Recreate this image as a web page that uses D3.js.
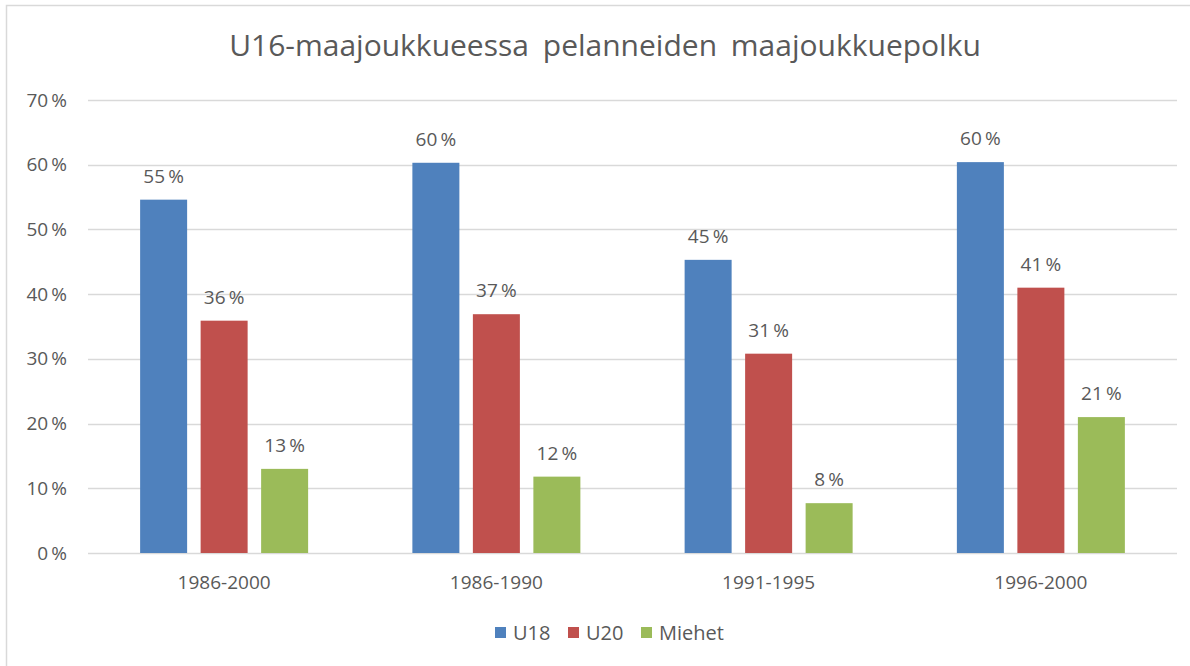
<!doctype html>
<html>
<head>
  <meta charset="utf-8">
  <title>U16-maajoukkueessa pelanneiden maajoukkuepolku</title>
  <script src="https://d3js.org/d3.v7.min.js"></script>
  <style>
    body { margin: 0; background: #fff; }
    svg text { font-family: "Open Sans", sans-serif; fill: #595959; }
  </style>
</head>
<body>
  <div id="chart"></div>
  <script>
    // data
    var categories = ["1986-2000", "1986-1990", "1991-1995", "1996-2000"];
    var seriesNames = ["U18", "U20", "Miehet"];
    var u18 = [54.6, 60.3, 45.3, 60.4];
    var u20 = [35.9, 36.9, 30.8, 41.0];
    var miehet = [13.0, 11.8, 7.7, 21.0];
    var yTicks = [0, 10, 20, 30, 40, 50, 60, 70];
    var colors = ["#4f81bd", "#c0504d", "#9bbb59"];

    var width = 1190, height = 666;
    var margin = { top: 100, right: 13, bottom: 113, left: 88 };

    var svg = d3.select("#chart").append("svg")
      .attr("width", width)
      .attr("height", height);

    // chart frame
    svg.append("rect")
      .attr("x", 6.5).attr("y", 5.5)
      .attr("width", width + 10).attr("height", height + 10)
      .attr("fill", "none")
      .attr("stroke", "#d9d9d9")
      .attr("stroke-width", 1.5);

    var x = d3.scaleBand()
      .domain(categories)
      .range([margin.left, width - margin.right]);

    var y = d3.scaleLinear()
      .domain([0, 70])
      .range([height - margin.bottom, margin.top]);

    var barW = 47, gap = 13.5;
    var inner = d3.scaleBand()
      .domain(seriesNames)
      .range([0, 3 * barW + 2 * gap])
      .paddingInner(gap / (barW + gap));

    // gridlines
    svg.append("g")
      .selectAll("line")
      .data(yTicks)
      .join("line")
      .attr("x1", margin.left)
      .attr("x2", width - margin.right)
      .attr("y1", function(d) { return Math.round(y(d)) + 0.5; })
      .attr("y2", function(d) { return Math.round(y(d)) + 0.5; })
      .attr("stroke", "#d9d9d9")
      .attr("stroke-width", 1.5);

    // y axis labels
    var yAxis = d3.axisLeft(y)
      .tickValues(yTicks)
      .tickSize(0)
      .tickPadding(21)
      .tickFormat(function(d) { return d + "\u2009%"; });

    svg.append("g")
      .attr("transform", "translate(" + margin.left + ",0)")
      .call(yAxis)
      .call(function(g) { g.select(".domain").remove(); })
      .selectAll("text")
      .style("font-size", "19px")
      .style("fill", "#595959");

    // x axis labels
    var xAxis = d3.axisBottom(x).tickSize(0).tickPadding(23);
    svg.append("g")
      .attr("transform", "translate(0," + y(0) + ")")
      .call(xAxis)
      .call(function(g) { g.select(".domain").remove(); })
      .selectAll("text")
      .style("font-size", "19px")
      .style("fill", "#595959");

    var series = [u18, u20, miehet];
    var groupW = 3 * barW + 2 * gap;

    var groups = svg.append("g")
      .selectAll("g")
      .data(categories)
      .join("g")
      .attr("transform", function(d) {
        return "translate(" + (x(d) + (x.bandwidth() - groupW) / 2) + ",0)";
      });

    seriesNames.forEach(function(name, si) {
      groups.append("rect")
        .attr("x", inner(name))
        .attr("width", inner.bandwidth())
        .attr("y", function(d, i) { return y(series[si][i]); })
        .attr("height", function(d, i) { return y(0) - y(series[si][i]); })
        .attr("fill", colors[si]);

      groups.append("text")
        .attr("x", inner(name) + inner.bandwidth() / 2)
        .attr("y", function(d, i) { return y(series[si][i]) - 17; })
        .attr("text-anchor", "middle")
        .style("font-size", "19px")
        .text(function(d, i) { return Math.round(series[si][i]) + "\u2009%"; });
    });

    // title
    svg.append("text")
      .attr("x", 605)
      .attr("y", 56)
      .attr("text-anchor", "middle")
      .style("font-size", "30px")
      .style("word-spacing", "6px")
      .text("U16-maajoukkueessa pelanneiden maajoukkuepolku");

    // legend
    var legendX = [495, 568, 641];
    var legend = svg.append("g")
      .selectAll("g")
      .data(seriesNames)
      .join("g")
      .attr("transform", function(d, i) { return "translate(" + legendX[i] + ",627)"; });

    legend.append("rect")
      .attr("width", 11).attr("height", 11)
      .attr("fill", function(d, i) { return colors[i]; });

    legend.append("text")
      .attr("x", 18)
      .attr("y", 12.5)
      .style("font-size", "20px")
      .text(function(d) { return d; });
  </script>
</body>
</html>
